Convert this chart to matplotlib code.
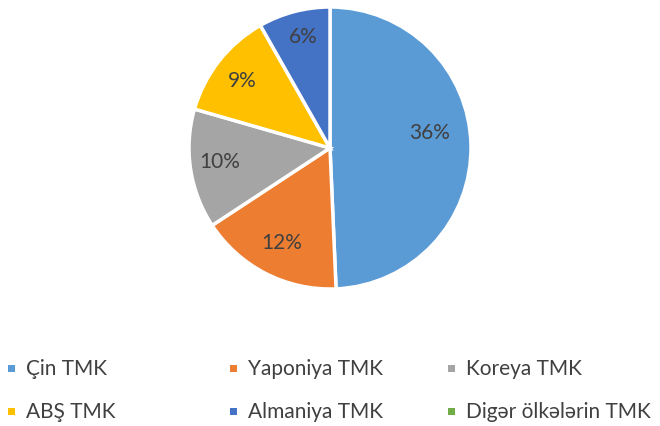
import matplotlib
matplotlib.use("Agg")
import numpy as np
import matplotlib.pyplot as plt
from matplotlib.patches import Rectangle

categories = ["Çin TMK", "Yaponiya TMK", "Koreya TMK", "ABŞ TMK", "Almaniya TMK", "Digər ölkələrin TMK"]
values = [36, 12, 10, 9, 6, 0]
colors = ["#5B9BD5", "#ED7D31", "#A5A5A5", "#FFC000", "#4472C4", "#70AD47"]

# label placement (radial distance, angular nudge in degrees) per visible slice
label_r = [0.715, 0.755, 0.785, 0.78, 0.81]
label_nudge = [7.5, 0, -1.5, 1, -1]

plt.rcParams['font.family'] = ['Lato', 'DejaVu Sans']

fig = plt.figure(figsize=(6.6, 4.26), dpi=100)
W, H = 660, 426
cx, cy, r = 330, 148, 141
ax = fig.add_axes([(cx - r) / W, (H - cy - r) / H, 2 * r / W, 2 * r / H])

shown = [(v, c) for v, c in zip(values, colors) if v > 0]
vals = [v for v, c in shown]
cols = [c for v, c in shown]
wedges, texts = ax.pie(vals, colors=cols, startangle=90, counterclock=False,
                       labels=[f"{v}%" for v in vals], labeldistance=0.75,
                       wedgeprops=dict(edgecolor="white", linewidth=2.5),
                       textprops=dict(color="#404040", fontsize=15))
for w, t, rr, nd in zip(wedges, texts, label_r, label_nudge):
    ang = np.deg2rad((w.theta1 + w.theta2) / 2 + nd)
    t.set_position((rr * np.cos(ang), rr * np.sin(ang)))
    t.set_ha("center"); t.set_va("center")
ax.set_xlim(-1, 1); ax.set_ylim(-1, 1)
ax.set_aspect("equal")

# legend: 3 columns, row-major order
col_x = [8, 230, 448]
row_base = [375, 418]
msize = 7
for i, (lab, c) in enumerate(zip(categories, colors)):
    col, row = i % 3, i // 3
    mx = col_x[col]
    by = row_base[row]
    mcy = by - 6.5
    fig.patches.append(Rectangle((mx / W, 1 - (mcy + msize / 2) / H), msize / W, msize / H,
                                 transform=fig.transFigure, facecolor=c, edgecolor="none"))
    fig.text((mx + msize + 11) / W, 1 - by / H, lab, fontsize=15, color="#404040",
             ha="left", va="baseline")

fig.savefig("out.png", dpi=100, facecolor="white")
